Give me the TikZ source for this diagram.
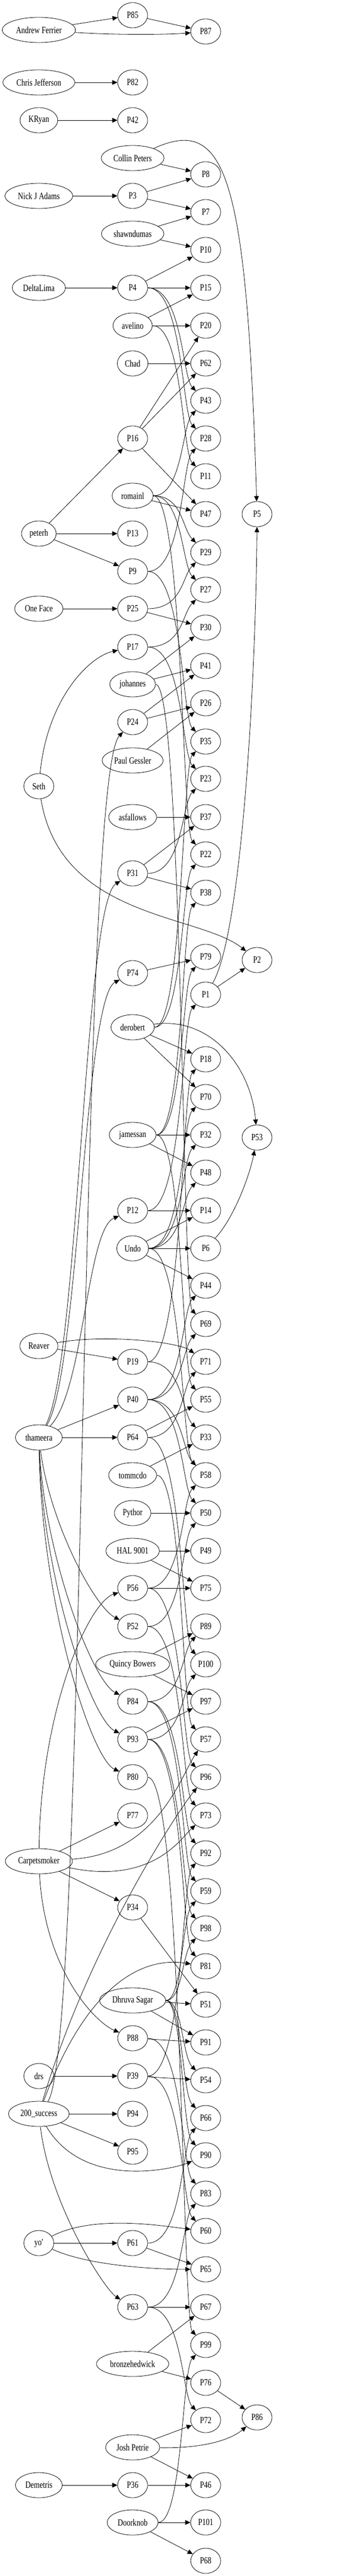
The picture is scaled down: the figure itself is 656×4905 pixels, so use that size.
\documentclass[tikz,border=0pt]{standalone}
\usepackage{fontspec}
\setmainfont{Liberation Serif}[FakeStretch=0.78]
\usetikzlibrary{shapes.geometric,arrows.meta}
\begin{document}
\begin{tikzpicture}[x=1pt,y=-1pt,
  nd/.style={draw, ellipse, line width=0.8pt, minimum width=57pt, minimum height=48pt, inner xsep=5.8pt, inner ysep=1pt, font=\fontsize{18}{20}\selectfont},
  conn/.style={line width=0.8pt, -{Triangle[length=10pt,width=9pt]}},
  cdn/.style={to path={.. controls +(95,0) and +(-45,-45) .. (\tikztotarget)}},
  cup/.style={to path={.. controls +(95,0) and +(-45,45) .. (\tikztotarget)}}
]
\fill[white] (0,0) rectangle (656,4905);
\useasboundingbox (0,0) rectangle (656,4905);
% column 0
\node[nd] (AF) at (74,57) {Andrew Ferrier};
\node[nd] (CJ) at (74,157) {Chris Jefferson};
\node[nd] (KR) at (74,229) {KRyan};
\node[nd] (NJA) at (74,373) {Nick J Adams};
\node[nd] (DL) at (74,548) {DeltaLima};
\node[nd] (PH) at (74,1016) {peterh};
\node[nd] (OF) at (74,1159) {One Face};
\node[nd] (SE) at (74,1497) {Seth};
\node[nd] (RE) at (74,2563) {Reaver};
\node[nd] (TH) at (74,2737) {thameera};
\node[nd] (CS) at (74,3544) {Carpetsmoker};
\node[nd] (DRS) at (74,3953) {drs};
\node[nd] (SU) at (74,4025) {200\_success};
\node[nd] (YO) at (74,4271) {yo\textquotesingle};
\node[nd] (DM) at (74,4732) {Demetris};
% column 1
\node[nd] (P85) at (252.6,29) {P85};
\node[nd] (P82) at (252.6,157) {P82};
\node[nd] (P42) at (252.6,229) {P42};
\node[nd] (CP) at (252.6,301) {Collin Peters};
\node[nd] (P3) at (252.6,373) {P3};
\node[nd] (SD) at (252.6,445) {shawndumas};
\node[nd] (P4) at (252.6,548) {P4};
\node[nd] (AV) at (252.6,620) {avelino};
\node[nd] (CH) at (252.6,692) {Chad};
\node[nd] (P16) at (252.6,835) {P16};
\node[nd] (RO) at (252.6,944) {romainl};
\node[nd] (P13) at (252.6,1016) {P13};
\node[nd] (P9) at (252.6,1088) {P9};
\node[nd] (P25) at (252.6,1159) {P25};
\node[nd] (P17) at (252.6,1232) {P17};
\node[nd] (JO) at (252.6,1303) {johannes};
\node[nd] (P24) at (252.6,1375) {P24};
\node[nd] (PG) at (252.6,1448) {Paul Gessler};
\node[nd] (AS) at (252.6,1556) {asfallows};
\node[nd] (P31) at (252.6,1663) {P31};
\node[nd] (P74) at (252.6,1853) {P74};
\node[nd] (DE) at (252.6,1956) {derobert};
\node[nd] (JA) at (252.6,2161) {jamessan};
\node[nd] (P12) at (252.6,2305) {P12};
\node[nd] (UN) at (252.6,2377) {Undo};
\node[nd] (P19) at (252.6,2593) {P19};
\node[nd] (P40) at (252.6,2665) {P40};
\node[nd] (P64) at (252.6,2737) {P64};
\node[nd] (TO) at (252.6,2809) {tommcdo};
\node[nd] (PY) at (252.6,2881) {Pythor};
\node[nd] (HAL) at (252.6,2953) {HAL 9001};
\node[nd] (P56) at (252.6,3024) {P56};
\node[nd] (P52) at (252.6,3097) {P52};
\node[nd] (QB) at (252.6,3169) {Quincy Bowers};
\node[nd] (P84) at (252.6,3240) {P84};
\node[nd] (P93) at (252.6,3312) {P93};
\node[nd] (P80) at (252.6,3384) {P80};
\node[nd] (P77) at (252.6,3457) {P77};
\node[nd] (P34) at (252.6,3632) {P34};
\node[nd] (DS) at (252.6,3809) {Dhruva Sagar};
\node[nd] (P88) at (252.6,3881) {P88};
\node[nd] (P39) at (252.6,3953) {P39};
\node[nd] (P94) at (252.6,4025) {P94};
\node[nd] (P95) at (252.6,4097) {P95};
\node[nd] (P61) at (252.6,4271) {P61};
\node[nd] (P63) at (252.6,4393) {P63};
\node[nd] (BH) at (252.6,4501) {bronzehedwick};
\node[nd] (JP) at (252.6,4660) {Josh Petrie};
\node[nd] (P36) at (252.6,4732) {P36};
\node[nd] (DK) at (252.6,4803) {Doorknob};
% column 2
\node[nd] (P87) at (391.7,60) {P87};
\node[nd] (P8) at (391.7,332) {P8};
\node[nd] (P7) at (391.7,404) {P7};
\node[nd] (P10) at (391.7,476) {P10};
\node[nd] (P15) at (391.7,548) {P15};
\node[nd] (P20) at (391.7,620) {P20};
\node[nd] (P62) at (391.7,692) {P62};
\node[nd] (P43) at (391.7,763) {P43};
\node[nd] (P28) at (391.7,835) {P28};
\node[nd] (P11) at (391.7,907) {P11};
\node[nd] (P47) at (391.7,979) {P47};
\node[nd] (P29) at (391.7,1052) {P29};
\node[nd] (P27) at (391.7,1123) {P27};
\node[nd] (P30) at (391.7,1195) {P30};
\node[nd] (P41) at (391.7,1268) {P41};
\node[nd] (P26) at (391.7,1339) {P26};
\node[nd] (P35) at (391.7,1412) {P35};
\node[nd] (P23) at (391.7,1483) {P23};
\node[nd] (P37) at (391.7,1556) {P37};
\node[nd] (P22) at (391.7,1627) {P22};
\node[nd] (P38) at (391.7,1700) {P38};
\node[nd] (P79) at (391.7,1822) {P79};
\node[nd] (P1) at (391.7,1894) {P1};
\node[nd] (P18) at (391.7,2017) {P18};
\node[nd] (P70) at (391.7,2089) {P70};
\node[nd] (P32) at (391.7,2161) {P32};
\node[nd] (P48) at (391.7,2233) {P48};
\node[nd] (P14) at (391.7,2305) {P14};
\node[nd] (P6) at (391.7,2377) {P6};
\node[nd] (P44) at (391.7,2448) {P44};
\node[nd] (P69) at (391.7,2521) {P69};
\node[nd] (P71) at (391.7,2593) {P71};
\node[nd] (P55) at (391.7,2665) {P55};
\node[nd] (P33) at (391.7,2737) {P33};
\node[nd] (P58) at (391.7,2809) {P58};
\node[nd] (P50) at (391.7,2881) {P50};
\node[nd] (P49) at (391.7,2953) {P49};
\node[nd] (P75) at (391.7,3024) {P75};
\node[nd] (P89) at (391.7,3097) {P89};
\node[nd] (P100) at (391.7,3169) {P100};
\node[nd] (P97) at (391.7,3240) {P97};
\node[nd] (P57) at (391.7,3312) {P57};
\node[nd] (P96) at (391.7,3384) {P96};
\node[nd] (P73) at (391.7,3457) {P73};
\node[nd] (P92) at (391.7,3529) {P92};
\node[nd] (P59) at (391.7,3601) {P59};
\node[nd] (P98) at (391.7,3672) {P98};
\node[nd] (P81) at (391.7,3744) {P81};
\node[nd] (P51) at (391.7,3817) {P51};
\node[nd] (P91) at (391.7,3889) {P91};
\node[nd] (P54) at (391.7,3961) {P54};
\node[nd] (P66) at (391.7,4033) {P66};
\node[nd] (P90) at (391.7,4104) {P90};
\node[nd] (P83) at (391.7,4177) {P83};
\node[nd] (P60) at (391.7,4248) {P60};
\node[nd] (P65) at (391.7,4321) {P65};
\node[nd] (P67) at (391.7,4393) {P67};
\node[nd] (P99) at (391.7,4465) {P99};
\node[nd] (P76) at (391.7,4537) {P76};
\node[nd] (P72) at (391.7,4608) {P72};
\node[nd] (P46) at (391.7,4732) {P46};
\node[nd] (P101) at (391.7,4803) {P101};
\node[nd] (P68) at (391.7,4876) {P68};
% column 3
\node[nd] (P5) at (489.5,979) {P5};
\node[nd] (P2) at (489.5,1828) {P2};
\node[nd] (P53) at (489.5,2166) {P53};
\node[nd] (P86) at (489.5,4603) {P86};
% straight connectors
\foreach \a/\b in {AF/P85, P85/P87, CJ/P82, KR/P42, CP/P8, NJA/P3, P3/P8, P3/P7, SD/P7, SD/P10,
  DL/P4, P4/P10, P4/P15, AV/P15, AV/P20, CH/P62, P16/P20, P16/P62, P16/P47, PH/P16, PH/P13, PH/P9,
  RO/P47, OF/P25, P25/P30, JO/P30, JO/P41, P24/P41, P24/P26, PG/P26, AS/P37, P31/P37, P31/P38,
  P74/P79, DE/P18, DE/P70, JA/P32, JA/P48, P12/P14, UN/P14, UN/P6, UN/P44, RE/P19, TH/P40, TH/P64,
  P64/P55, TO/P33, PY/P50, HAL/P49, HAL/P75, P56/P75, QB/P89, QB/P97, P93/P97, CS/P77, CS/P34,
  P34/P51, DS/P51, DS/P91, P88/P91, DRS/P39, P39/P54, SU/P94, SU/P95, YO/P61, P61/P65, P63/P67,
  BH/P67, BH/P76, P76/P86, JP/P72, JP/P46, DM/P36, P36/P46, DK/P101, DK/P68, P1/P2}
  {\draw[conn] (\a) -- (\b);}
% curved connectors going down
\foreach \a/\b in {P4/P43, P4/P28, AV/P11, RO/P29, RO/P27, RO/P22, P9/P35, P17/P23, JO/P69,
  JA/P55, UN/P58, P19/P33, P40/P58, P40/P50, P64/P100, TO/P57, P56/P96, P52/P73, P84/P92, P84/P59,
  P93/P98, P93/P81, P80/P99, DS/P54, DS/P66, DS/P90, P88/P83, P39/P60, P63/P72}
  {\draw[conn] (\a) to[cdn] (\b);}
% curved connectors going up
\foreach \a/\b in {RO/P43, P9/P28, P25/P29, P17/P27, P31/P23, DE/P35, DE/P22, JA/P38, JA/P79,
  P12/P1, UN/P70, UN/P32, UN/P48, P19/P18, P40/P44, P40/P69, P64/P71, P56/P58, P52/P50, P84/P89,
  P93/P100, DS/P98, DS/P59, P39/P92, P61/P66, P63/P83, DK/P99}
  {\draw[conn] (\a) to[cup] (\b);}
% individually routed connectors
\draw[conn] (AF) .. controls (220,67) and (320,66) .. (P87);
\draw[conn] (CP) .. controls (430,220) and (470,330) .. (P5);
\draw[conn] (SE) .. controls (90,1330) and (170,1250) .. (P17);
\draw[conn] (SE) .. controls (115,1750) and (380,1740) .. (P2);
\draw[conn] (P1) .. controls (460,1780) and (487,1300) .. (P5);
\draw[conn] (DE) .. controls (400,1935) and (478,2030) .. (P53);
\draw[conn] (P6) .. controls (445,2320) and (475,2240) .. (P53);
\draw[conn] (RE) .. controls (200,2540) and (340,2555) .. (P71);
\draw[conn] (TH) .. controls (160,2650) and (165,2340) .. (P12);
\draw[conn] (TH) .. controls (150,2620) and (160,1900) .. (P74);
\draw[conn] (TH) .. controls (150,2600) and (160,1720) .. (P31);
\draw[conn] (TH) .. controls (95,2900) and (180,3060) .. (P52);
\draw[conn] (TH) .. controls (85,2960) and (175,3200) .. (P84);
\draw[conn] (TH) .. controls (82,3010) and (175,3275) .. (P93);
\draw[conn] (TH) .. controls (80,3060) and (175,3350) .. (P80);
\draw[conn] (SU) .. controls (165,3900) and (150,1480) .. (P24);
\draw[conn] (CS) .. controls (78,3250) and (170,3050) .. (P56);
\draw[conn] (CS) .. controls (85,3750) and (180,3850) .. (P88);
\draw[conn] (CS) .. controls (300,3530) and (345,3380) .. (P57);
\draw[conn] (CS) .. controls (290,3590) and (345,3500) .. (P73);
\draw[conn] (SU) .. controls (165,3780) and (270,3725) .. (P81);
\draw[conn] (SU) .. controls (170,3700) and (345,3440) .. (P96);
\draw[conn] (SU) .. controls (95,4200) and (200,4360) .. (P63);
\draw[conn] (SU) .. controls (160,4170) and (330,4130) .. (P90);
\draw[conn] (YO) .. controls (180,4215) and (320,4240) .. (P60);
\draw[conn] (YO) .. controls (170,4315) and (300,4321) .. (P65);
\draw[conn] (JP) .. controls (390,4662) and (440,4645) .. (P86);
\end{tikzpicture}
\end{document}
